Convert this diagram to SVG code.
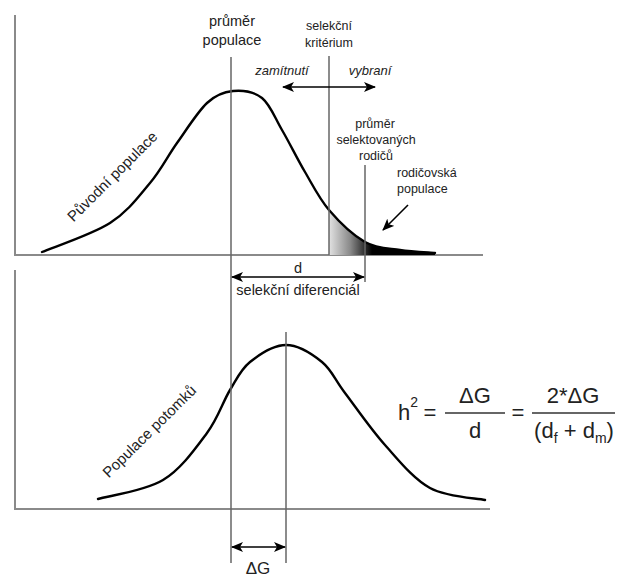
<svg xmlns="http://www.w3.org/2000/svg" width="627" height="579" viewBox="0 0 627 579">
<style>
text{font-family:"Liberation Sans",Arial,sans-serif;fill:#222}
.axis{stroke:#8a8a8a;stroke-width:2;fill:none}
.vline{stroke:#666;stroke-width:1.5;fill:none}
.curve{stroke:#000;stroke-width:2.4;fill:none;stroke-linecap:round}
.arr{stroke:#000;stroke-width:1.6;fill:none}
.lbl{font-size:12.5px}
.big{font-size:14.5px}
.rot{font-size:15px}
.it{font-size:13px;font-style:italic}
.eq{font-size:22px}
</style>
<defs>
<marker id="ah" viewBox="0 0 12 10" refX="11" refY="5" markerWidth="12" markerHeight="10" markerUnits="userSpaceOnUse" orient="auto-start-reverse">
<path d="M0,0 L12,5 L0,10 L3,5 Z" fill="#000"/>
</marker>
<linearGradient id="shade" gradientUnits="userSpaceOnUse" x1="329" y1="0" x2="372" y2="0">
<stop offset="0" stop-color="#e2e2e2"/>
<stop offset="0.5" stop-color="#888"/>
<stop offset="1" stop-color="#000"/>
</linearGradient>
</defs>

<g id="axes">
<path class="axis" d="M15,15 V255 H483"/>
<path class="axis" d="M15,270 V509 H490"/>
</g>

<g id="shaded-region">
<path fill="url(#shade)" d="M329,255 L329,210 C339,221.7 353.2,235.3 365,242 C376.8,248.7 388.3,248.2 400,250 C411.7,251.8 429.2,252.5 435,253 L435,255 Z"/>
</g>

<g id="parent-curve">
<path class="curve" d="M42,252 C53.3,247.2 92,234.5 110,223 C128,211.5 138.8,196.3 150,183 C161.2,169.7 167.5,156.3 177,143 C186.5,129.7 197.7,111.7 207,103 C216.3,94.3 223.8,91.8 233,91 C242.2,90.2 253.8,91.5 262,98 C270.2,104.5 274.8,117.7 282,130 C289.2,142.3 297.2,158.7 305,172 C312.8,185.3 319,198.3 329,210 C339,221.7 353.2,235.3 365,242 C376.8,248.7 388.3,248.2 400,250 C411.7,251.8 429.2,252.5 435,253"/>
<text class="rot" transform="translate(116,180) rotate(-45)" text-anchor="middle">Původní populace</text>
</g>

<g id="offspring-curve">
<path class="curve" d="M98,499 C108.8,495.8 144.8,491 163,480 C181.2,469 195.8,448 207,433 C218.2,418 222.8,401.8 230,390 C237.2,378.2 240.7,369.5 250,362 C259.3,354.5 274,345 286,345 C298,345 312.2,354 322,362 C331.8,370 334.5,379.2 345,393 C355.5,406.8 370.8,429.2 385,445 C399.2,460.8 413.3,478.8 430,488 C446.7,497.2 475.8,498 485,500"/>
<text class="rot" transform="translate(153,435) rotate(-44.5)" text-anchor="middle">Populace potomků</text>
</g>

<g id="connectors">
<line class="vline" x1="231" y1="57" x2="231" y2="563"/>
<line class="vline" x1="286" y1="332" x2="286" y2="563"/>
<line class="vline" x1="329" y1="56" x2="329" y2="255"/>
<line class="vline" x1="365" y1="165" x2="365" y2="282"/>
<line class="arr" x1="283" y1="87" x2="375" y2="87" marker-start="url(#ah)" marker-end="url(#ah)"/>
<line class="arr" x1="232" y1="277" x2="364" y2="277" marker-start="url(#ah)" marker-end="url(#ah)"/>
<line class="arr" x1="232" y1="547" x2="285" y2="547" marker-start="url(#ah)" marker-end="url(#ah)"/>
<line class="arr" x1="408" y1="205" x2="383" y2="230" marker-end="url(#ah)"/>
</g>

<g id="label-mean">
<text class="big" x="232" y="26" text-anchor="middle">průměr</text>
<text class="big" x="232" y="45" text-anchor="middle">populace</text>
</g>

<g id="label-criterion">
<text class="lbl" x="329" y="30" text-anchor="middle">selekční</text>
<text class="lbl" x="329" y="47" text-anchor="middle">kritérium</text>
<text class="it" x="282" y="75" text-anchor="middle">zamítnutí</text>
<text class="it" x="370" y="75" text-anchor="middle">vybraní</text>
</g>

<g id="label-selected-mean">
<text class="lbl" x="375" y="128" text-anchor="middle">průměr</text>
<text class="lbl" x="376" y="144" text-anchor="middle">selektovaných</text>
<text class="lbl" x="376" y="160" text-anchor="middle">rodičů</text>
</g>

<g id="label-parents">
<text class="lbl" x="397" y="177">rodičovská</text>
<text class="lbl" x="397" y="193">populace</text>
</g>

<g id="label-d">
<text class="big" x="298" y="273" text-anchor="middle">d</text>
<text class="big" x="298" y="295" text-anchor="middle">selekční diferenciál</text>
</g>

<g id="label-dG">
<text x="258" y="574" text-anchor="middle" font-size="17">ΔG</text>
</g>

<g id="formula">
<text class="eq" x="398" y="420">h<tspan font-size="14" dy="-13">2</tspan></text>
<text class="eq" x="430" y="420" text-anchor="middle">=</text>
<text class="eq" x="475" y="403" text-anchor="middle">ΔG</text>
<line x1="445" y1="413" x2="505" y2="413" stroke="#333" stroke-width="1.5"/>
<text class="eq" x="475" y="438" text-anchor="middle">d</text>
<text class="eq" x="518" y="420" text-anchor="middle">=</text>
<text class="eq" x="573" y="403" text-anchor="middle">2*ΔG</text>
<line x1="532" y1="413" x2="615" y2="413" stroke="#333" stroke-width="1.5"/>
<text class="eq" x="574" y="438" text-anchor="middle">(d<tspan font-size="14" dy="5">f</tspan><tspan dy="-5"> + d</tspan><tspan font-size="14" dy="5">m</tspan><tspan dy="-5">)</tspan></text>
</g>
</svg>
